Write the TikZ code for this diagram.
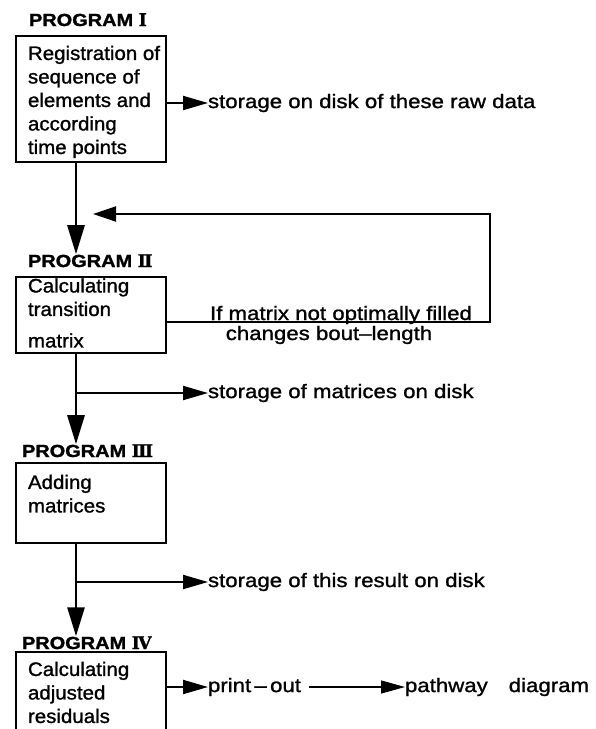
\documentclass[tikz,border=0pt]{standalone}
\usepackage{fontspec}
\setmainfont{Liberation Sans}
\newfontfamily\boxfont[FakeStretch=1.05,FakeBold=1.2]{Liberation Sans}
\newfontfamily\sidefont[FakeStretch=1.14,FakeBold=1.2]{Liberation Sans}
\newfontfamily\headfont[FakeStretch=1.14,FakeBold=1.5]{Liberation Sans Bold}
\newfontfamily\numeralfont[FakeBold=1.5]{DejaVu Serif}
\usetikzlibrary{arrows.meta}

\tikzset{
  every node/.style={inner sep=0pt, outer sep=0pt},
  stage/.style={draw, line width=2pt, minimum width=150pt, anchor=north west},
  boxtext/.style={font=\boxfont\fontsize{19.5}{23.5}\selectfont, align=left, anchor=north west},
  sidetext/.style={font=\sidefont\fontsize{19.5}{23.5}\selectfont, anchor=west},
  looptext/.style={font=\sidefont\fontsize{19.5}{23.5}\selectfont, anchor=base},
  progtitle/.style={font=\headfont\fontsize{17.5}{20}\selectfont, anchor=base west},
  flow/.style={line width=2.8pt, -{Triangle[length=29pt,width=17pt]}},
  outarrow/.style={line width=2pt, -{Triangle[length=25pt,width=14pt]}},
  backarrow/.style={line width=2pt, -{Triangle[length=23pt,width=15pt]}},
  thinarrow/.style={line width=1.2pt, -{Triangle[length=24pt,width=13pt]}},
}
\newcommand{\prognum}[1]{{\numeralfont\bfseries #1}}

\begin{document}
\begin{tikzpicture}[x=1pt,y=-1pt]
  \clip (0,0) rectangle (596,729);
  % x position of the main vertical flow line
  \coordinate (spine) at (76,0);

  % program titles
  \node[progtitle] (t1) at (29,26)  {PROGRAM \prognum{Ⅰ}};
  \node[progtitle] (t2) at (28,267) {PROGRAM \prognum{Ⅱ}};
  \node[progtitle] (t3) at (22,457) {PROGRAM \prognum{Ⅲ}};
  \node[progtitle] (t4) at (22,649) {PROGRAM \prognum{Ⅳ}};

  % program boxes
  \node[stage, minimum height=126pt] (p1) at (16,36)  {};
  \node[stage, minimum height=76pt]  (p2) at (16,277) {};
  \node[stage, minimum height=80pt]  (p3) at (16,463) {};
  \node[stage, minimum height=92pt]  (p4) at (16,652) {};

  % box contents
  \node[boxtext] (x1) at (28,43.5)  {\strut Registration of\\ sequence of\\ elements and\\ according\\ time points};
  \node[boxtext] (x2) at (28,276) {\strut Calculating\\ transition\\[8pt] matrix};
  \node[boxtext] (x3) at (28,472.5) {\strut Adding\\ matrices};
  \node[boxtext] (x4) at (28,659.5) {\strut Calculating\\ adjusted\\ residuals};

  % side outputs
  \node[sidetext] (s1) at (208,103) {storage on disk of these raw data};
  \node[sidetext] (s2) at (208,393) {storage of matrices on disk};
  \node[sidetext] (s3) at (208,582) {storage of this result on disk};
  \node[sidetext] (pr) at (208,687) {print\,–\,out};
  \node[sidetext] (pw) at (405,687) {pathway\hspace{21pt}diagram};

  % main flow
  \draw[flow] (p1.south -| spine) -- (t2.north -| spine);
  \draw[flow] (p2.south -| spine) -- (t3.north -| spine);
  \draw[flow] (p3.south -| spine) -- (t4.north -| spine);

  % outputs
  \draw[outarrow] (p1.east |- s1.west) -- (s1.west);
  \draw[outarrow] (spine |- s2.west) -- (s2.west);
  \draw[outarrow] (spine |- s3.west) -- (s3.west);
  \draw[outarrow] (p4.east |- pr.west) -- (pr.west);
  \draw[thinarrow] ([xshift=8pt]pr.east) -- (pw.west);

  % feedback loop back to program II
  \coordinate (lr) at (490,322);
  \coordinate (ur) at (490,214);
  \coordinate (fbtip) at (93,214);
  \draw[backarrow] (p2.east |- lr) -- (lr) -- (ur) -- (fbtip);
  \node[looptext] (l1) at (341,320) {If matrix not optimally filled};
  \node[looptext] (l2) at (329,340) {changes bout–length};
\end{tikzpicture}
\end{document}
